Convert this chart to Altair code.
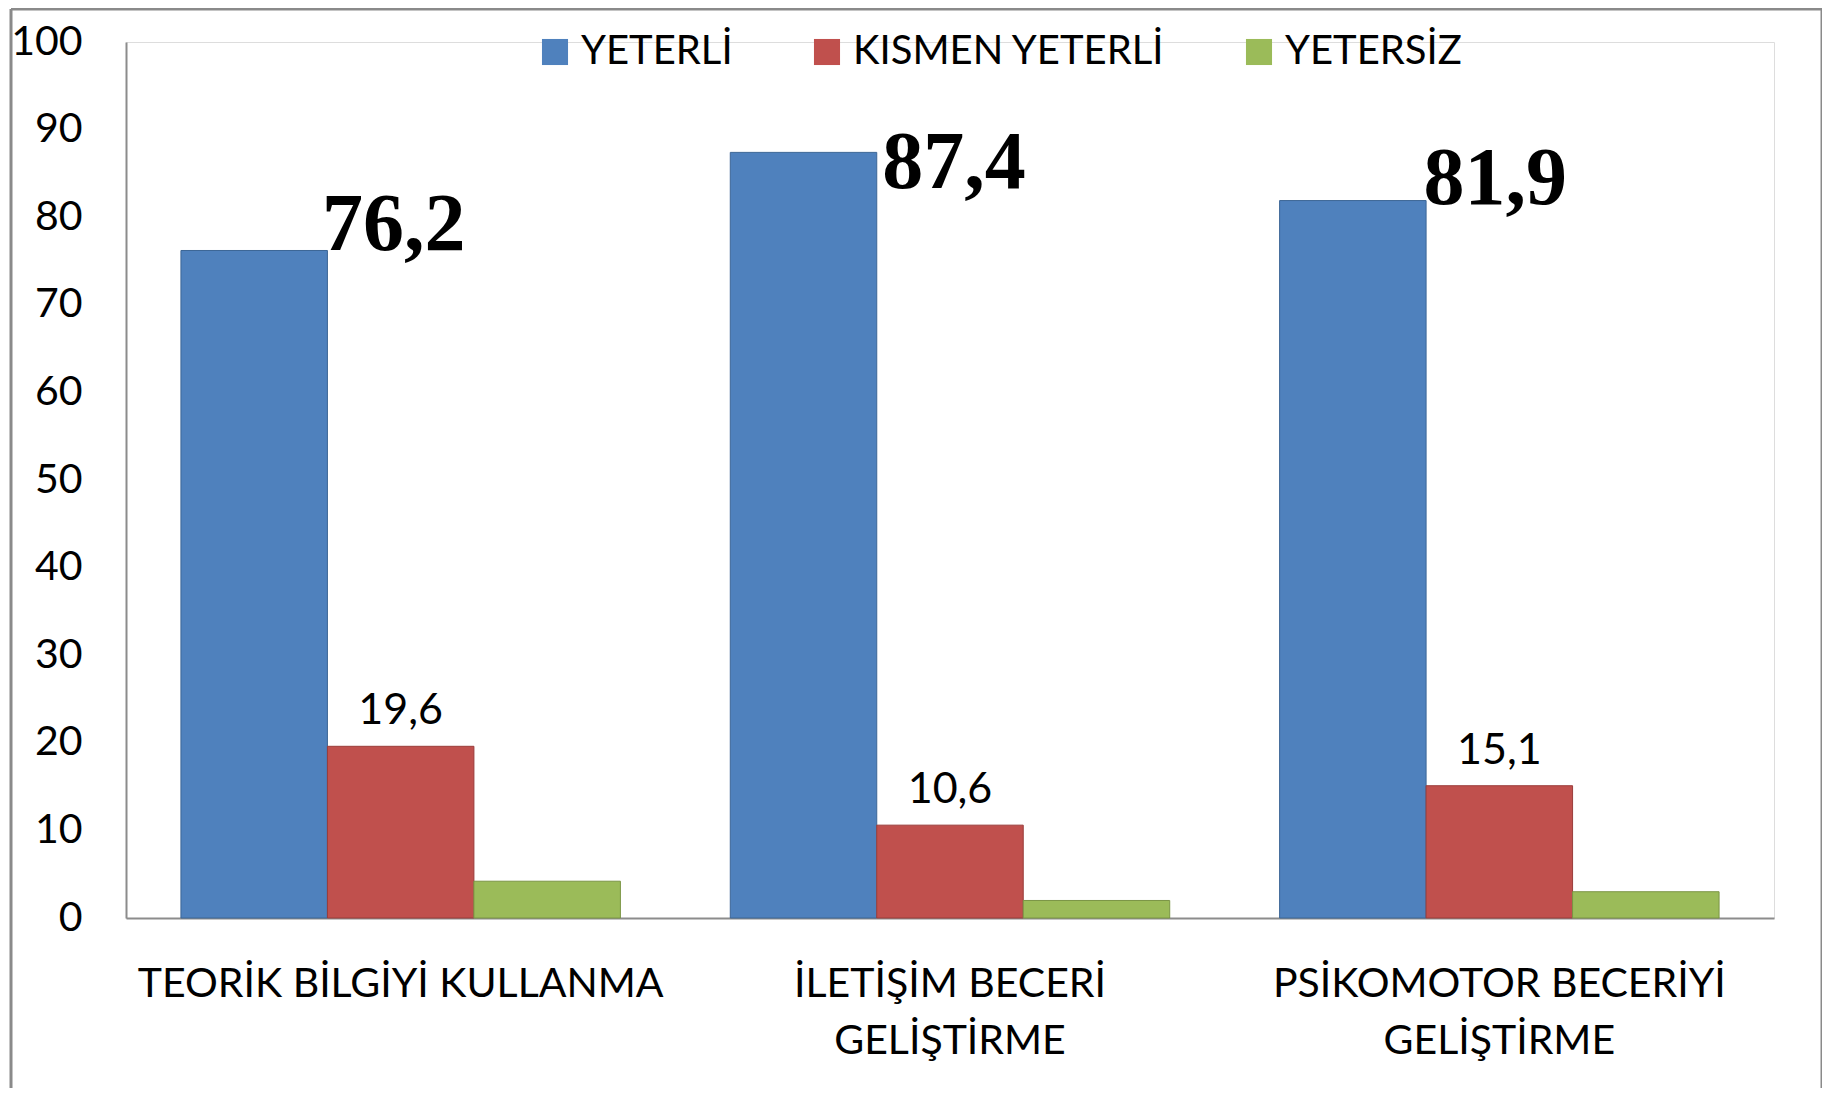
import altair as alt
import pandas as pd

categories = ["TEORİK BİLGİYİ KULLANMA", "İLETİŞİM BECERİ GELİŞTİRME", "PSİKOMOTOR BECERİYİ GELİŞTİRME"]
series = ["YETERLİ", "KISMEN YETERLİ", "YETERSİZ"]
yeterli = [76.2, 87.4, 81.9]
kismen = [19.6, 10.6, 15.1]
yetersiz = [4.2, 2.0, 3.0]
y_ticks = [0, 10, 20, 30, 40, 50, 60, 70, 80, 90, 100]

colors = ["#4F81BD", "#C0504D", "#9BBB59"]
strokes = ["#3C6696", "#9A3C3A", "#7A9544"]

rows = []
for i, c in enumerate(categories):
    for s, vals in zip(series, [yeterli, kismen, yetersiz]):
        rows.append({"cat": c, "series": s, "value": vals[i]})
df = pd.DataFrame(rows)


def fmt(v):
    return f"{v:.1f}".replace(".", ",")


blue_lab = pd.DataFrame({"cat": categories, "series": ["KISMEN YETERLİ"] * 3,
                         "value": yeterli, "label": [fmt(v) for v in yeterli]})
red_lab = pd.DataFrame({"cat": categories, "series": ["KISMEN YETERLİ"] * 3,
                        "value": kismen, "label": [fmt(v) for v in kismen]})

FONT = "Lato"
PLOT_BG = "#E6E6E6"

x_enc = alt.X("cat:N", sort=categories,
              scale=alt.Scale(domain=categories, paddingInner=0.2, paddingOuter=0.1),
              axis=alt.Axis(title=None, labelAngle=0, ticks=False, labelFont=FONT,
                            labelFontSize=41, labelColor="black", labelPadding=46,
                            labelLineHeight=57, labelLimit=0, domainColor="#8c8c8c",
                            domainWidth=2,
                            labelExpr="datum.value == 'TEORİK BİLGİYİ KULLANMA' ? datum.value : split(replace(datum.value, ' GELİŞTİRME', '|GELİŞTİRME'), '|')"))
xo_enc = alt.XOffset("series:N", sort=series,
                     scale=alt.Scale(domain=series, paddingInner=0, paddingOuter=0))
y_enc = alt.Y("value:Q", scale=alt.Scale(domain=[0, 100], nice=False),
              axis=alt.Axis(title=None, values=y_ticks, ticks=False, grid=False,
                            labelFont=FONT, labelFontSize=41, labelColor="black",
                            labelPadding=44, domainColor="#8c8c8c", domainWidth=2))

bars = alt.Chart(df).mark_bar(strokeWidth=1).encode(
    x=x_enc,
    xOffset=xo_enc,
    y=y_enc,
    color=alt.Color("series:N", sort=series,
                    scale=alt.Scale(domain=series, range=colors),
                    legend=alt.Legend(title=None, orient="none", direction="horizontal",
                                      legendX=409, legendY=-10, padding=0,
                                      symbolType="square", symbolSize=680,
                                      symbolStrokeWidth=0, labelFont=FONT,
                                      labelFontSize=40, labelColor="black",
                                      labelOffset=6, columnPadding=74,
                                      labelLimit=600)),
    stroke=alt.Stroke("series:N", scale=alt.Scale(domain=series, range=strokes), legend=None),
)

blue_dx = [-7, 4, -4]
blue_dy = [0, 36, 3]
blue_layers = []
for i, c in enumerate(categories):
    blue_layers.append(
        alt.Chart(blue_lab).transform_filter(alt.datum.cat == c).mark_text(
            font="Liberation Serif", fontWeight="bold", fontSize=82, baseline="alphabetic",
            align="center", dx=blue_dx[i], dy=blue_dy[i], color="black"
        ).encode(x=alt.X("cat:N", sort=categories), xOffset=alt.XOffset("series:N", sort=series),
                 y="value:Q", text="label:N")
    )

red_text = alt.Chart(red_lab).mark_text(
    font=FONT, fontSize=43, baseline="alphabetic", align="center", dy=-22, color="black"
).encode(x=alt.X("cat:N", sort=categories), xOffset=alt.XOffset("series:N", sort=series),
         y="value:Q", text="label:N")

fr = pd.DataFrame({"a": [0]})
frame_color = "#8a8a8a"
frame_left = alt.Chart(fr).mark_rule(color=frame_color, strokeWidth=3).encode(
    x=alt.value(-115), y=alt.value(-33), y2=alt.value(1100))
frame_right = alt.Chart(fr).mark_rule(color=frame_color, strokeWidth=3).encode(
    x=alt.value(1696), y=alt.value(-33), y2=alt.value(1100))
frame_top = alt.Chart(fr).mark_rule(color=frame_color, strokeWidth=3).encode(
    x=alt.value(-115), x2=alt.value(1696), y=alt.value(-33))

chart = alt.layer(frame_left, frame_right, frame_top, bars, *blue_layers, red_text).properties(
    width=1648, height=876,
    padding={"left": 118, "top": 34, "right": 48, "bottom": 170},
    autosize=alt.AutoSizeParams(type="none"),
).configure_view(fill=PLOT_BG, stroke=PLOT_BG, strokeWidth=1).configure(background="white")

chart.save("out.html", embed_options={"renderer": "svg", "actions": False})
